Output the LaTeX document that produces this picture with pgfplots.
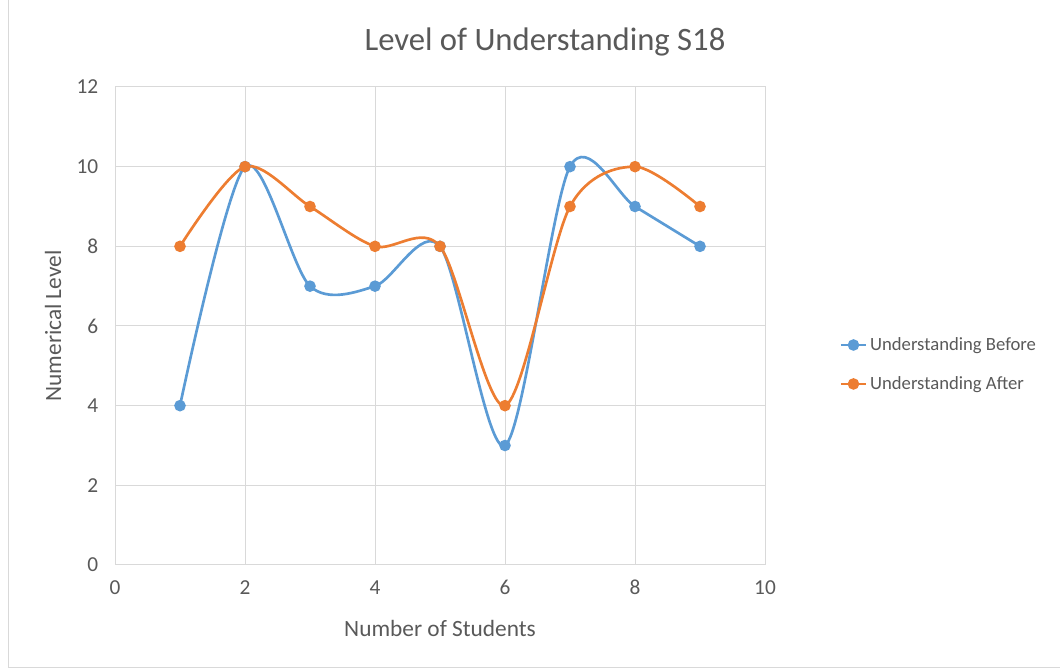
\documentclass[border=0pt]{standalone}
\usepackage{fontspec}
\setmainfont{Carlito}
\usepackage{pgfplots}
\pgfplotsset{compat=1.18}
\definecolor{cblue}{HTML}{5B9BD5}
\definecolor{corange}{HTML}{ED7D31}
\definecolor{txt}{HTML}{595959}
\definecolor{grd}{HTML}{D9D9D9}
\begin{document}
\begin{tikzpicture}
\path[use as bounding box] (0pt,0pt) rectangle (795pt,502.5pt);
\draw[grd,line width=0.75pt] (6pt,502.5pt) -- (6pt,1.5pt) -- (795pt,1.5pt);
\begin{axis}[
  at={(86.25pt,78.75pt)}, anchor=south west,
  scale only axis, width=487.5pt, height=358.5pt,
  xmin=0, xmax=10, ymin=0, ymax=12,
  xtick={0,2,...,10}, ytick={0,2,...,12},
  grid=major, major grid style={grd, line width=0.75pt},
  axis line style={grd, line width=0.75pt},
  major tick length=0pt,
  tick label style={font=\fontsize{16}{18}\selectfont, text=txt},
  /pgf/number format/assume math mode=true,
  xticklabel style={yshift=-8pt},
  yticklabel style={xshift=-9pt},
  xlabel={Number of Students}, ylabel={Numerical Level},
  label style={font=\fontsize{17.5}{20}\selectfont, text=txt},
  xlabel style={at={(axis description cs:0.5,-0.132)}, anchor=center},
  ylabel style={at={(axis description cs:-0.0954,0.5)}, anchor=center, rotate=0},
  title={Level of Understanding S18},
  title style={font=\fontsize{24.5}{28}\selectfont, text=txt,
    at={(axis description cs:0.6615,1.077)}, anchor=center},
  legend style={at={(1.108,0.4195)}, anchor=west, draw=none, fill=none,
    font=\fontsize{14}{16}\selectfont, text=txt, row sep=14pt,
    /tikz/every even column/.style={column sep=0pt}},
  legend cell align=left,
  legend image code/.code={
    \draw[#1, mark=none] (0pt,0pt) -- (19pt,0pt);
    \draw[#1, only marks] plot coordinates {(9.5pt,0pt)};
  },
]
\addplot[cblue, line width=2pt, smooth, tension=0.5, mark=*, mark size=3.3pt,
  mark options={fill=cblue, draw=cblue}]
  coordinates {(1,4) (2,10) (3,7) (4,7) (5,8) (6,3) (7,10) (8,9) (9,8)};
\addlegendentry{Understanding Before}
\addplot[corange, line width=2pt, smooth, tension=0.5, mark=*, mark size=3.3pt,
  mark options={fill=corange, draw=corange}]
  coordinates {(1,8) (2,10) (3,9) (4,8) (5,8) (6,4) (7,9) (8,10) (9,9)};
\addlegendentry{Understanding After}
\end{axis}
\end{tikzpicture}
\end{document}
